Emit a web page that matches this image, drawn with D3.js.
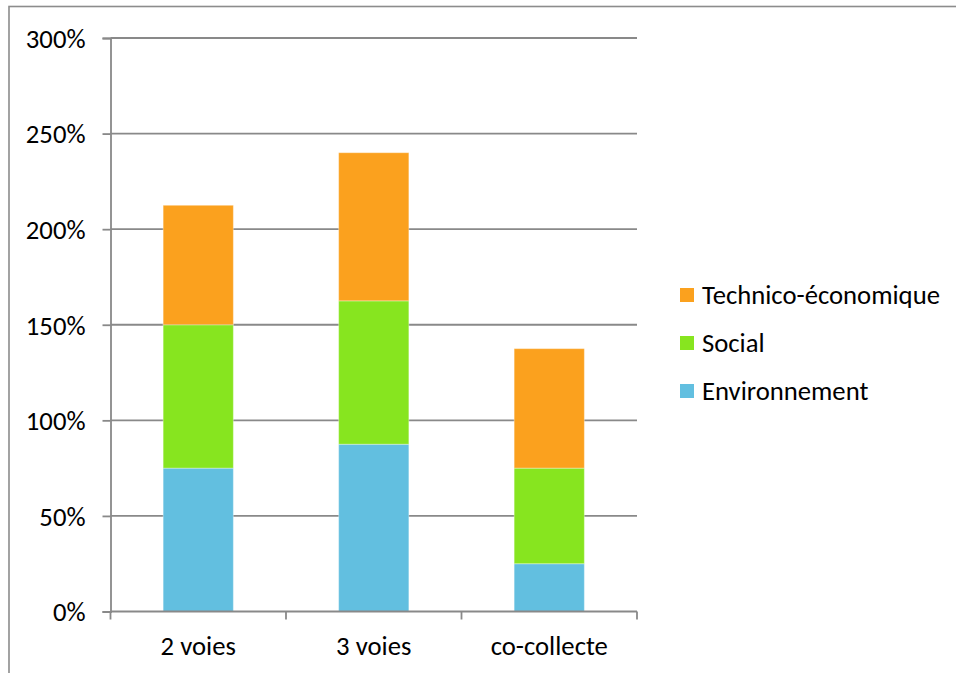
<!DOCTYPE html>
<html>
<head>
<meta charset="utf-8">
<script src="https://cdn.jsdelivr.net/npm/d3@7"></script>
<style>
  html, body { margin: 0; padding: 0; background: #fff; }
  svg { display: block; }
  text { font-family: Calibri, Carlito, "Open Sans", sans-serif; fill: #000; }
</style>
</head>
<body>
<svg id="chart" width="956" height="673"></svg>
<script>
// Categories and stacked series (percent)
const categories = ["2 voies", "3 voies", "co-collecte"];
const environnement = [75, 87.5, 25];
const social = [75, 75, 50];
const technico = [62.5, 77.5, 62.5];
const seriesNames = ["Environnement", "Social", "Technico-économique"];
const seriesColors = ["#62bfe0", "#87e51f", "#fba11e"];
const yTicks = [0, 50, 100, 150, 200, 250, 300];

const svg = d3.select("#chart");
const W = 956, H = 673;
const fontSize = 26.7;

// outer chart frame
svg.append("rect")
  .attr("x", 9).attr("y", 6.5)
  .attr("width", W + 20).attr("height", H + 20)
  .attr("fill", "none").attr("stroke", "#8c8c8c").attr("stroke-width", 1.6);

const plot = { left: 110.5, right: 637, top: 38, bottom: 611.5 };

const x = d3.scaleBand()
  .domain(categories)
  .range([plot.left, plot.right])
  .paddingInner(0.6).paddingOuter(0.3);

// band for tick positions (category boundaries)
const xOuter = d3.scaleBand().domain(categories).range([plot.left, plot.right]);

const y = d3.scaleLinear().domain([0, 300]).range([plot.bottom, plot.top]);

const gridColor = "#898989";

// horizontal gridlines + y axis
const yAxis = d3.axisLeft(y)
  .tickValues(yTicks)
  .tickSize(8)
  .tickFormat(d => d + "%");
const gy = svg.append("g").attr("transform", `translate(${plot.left},0)`).call(yAxis);
gy.select(".domain").attr("stroke", gridColor).attr("stroke-width", 1.8);
gy.selectAll(".tick line").attr("stroke", gridColor).attr("stroke-width", 1.8);
gy.selectAll(".tick text")
  .attr("x", -25)
  .style("font-size", fontSize + "px")
  .attr("dy", "0.35em");

svg.append("g").selectAll("line")
  .data(yTicks.filter(d => d > 0))
  .join("line")
  .attr("x1", plot.left).attr("x2", plot.right)
  .attr("y1", d => y(d)).attr("y2", d => y(d))
  .attr("stroke", gridColor).attr("stroke-width", 1.8);

// stacked data
const rows = categories.map((c, i) => ({
  cat: c,
  Environnement: environnement[i],
  Social: social[i],
  "Technico-économique": technico[i]
}));
const stack = d3.stack().keys(seriesNames)(rows);

svg.append("g").selectAll("g")
  .data(stack)
  .join("g")
  .attr("fill", (d, i) => seriesColors[i])
  .selectAll("rect")
  .data(d => d)
  .join("rect")
  .attr("x", d => x(d.data.cat))
  .attr("width", x.bandwidth())
  .attr("y", d => y(d[1]))
  .attr("height", d => y(d[0]) - y(d[1]))
  .attr("stroke", "#ffffff")
  .attr("stroke-opacity", 0.35)
  .attr("stroke-width", 1);

// x axis
const xAxisLine = svg.append("g");
xAxisLine.append("line")
  .attr("x1", plot.left).attr("x2", plot.right)
  .attr("y1", plot.bottom).attr("y2", plot.bottom)
  .attr("stroke", gridColor).attr("stroke-width", 1.8);
const boundaries = categories.map(c => xOuter(c)).concat([plot.right]);
xAxisLine.selectAll("line.tk")
  .data(boundaries)
  .join("line")
  .attr("class", "tk")
  .attr("x1", d => d).attr("x2", d => d)
  .attr("y1", plot.bottom).attr("y2", plot.bottom + 8)
  .attr("stroke", gridColor).attr("stroke-width", 1.8);
xAxisLine.selectAll("text")
  .data(categories)
  .join("text")
  .attr("x", d => x(d) + x.bandwidth() / 2)
  .attr("y", 655)
  .attr("text-anchor", "middle")
  .style("font-size", fontSize + "px")
  .text(d => d);

// legend (top to bottom: reverse stack order)
const legendItems = seriesNames.map((n, i) => ({ name: n, color: seriesColors[i] })).reverse();
const lg = svg.append("g").selectAll("g")
  .data(legendItems)
  .join("g")
  .attr("transform", (d, i) => `translate(680,${295 + i * 48})`);
lg.append("rect")
  .attr("x", 0).attr("y", -7)
  .attr("width", 14).attr("height", 14)
  .attr("fill", d => d.color);
lg.append("text")
  .attr("x", 22).attr("y", 0)
  .attr("dy", "0.35em")
  .style("font-size", fontSize + "px")
  .text(d => d.name);
</script>
</body>
</html>
